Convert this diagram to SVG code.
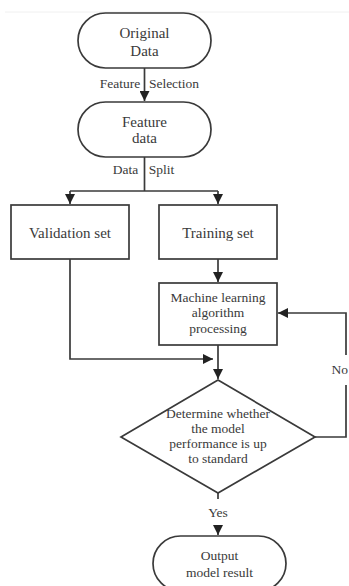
<svg xmlns="http://www.w3.org/2000/svg" width="349" height="586" viewBox="0 0 349 586">
<style>
.n{fill:#fff;stroke:#3a3a3a;stroke-width:1.7}
.t{font-family:"Liberation Serif","Times New Roman",serif;fill:#3a3a3a;text-anchor:middle}
.b{font-size:15px}
.s{font-size:13.5px}
.c{fill:none;stroke:#3a3a3a;stroke-width:1.7}
</style>
<defs>
<marker id="ah" viewBox="0 0 10 10" refX="10" refY="5" markerWidth="10" markerHeight="10" markerUnits="userSpaceOnUse" orient="auto">
<path d="M0,0 L10,5 L0,10 Z" fill="#222"/>
</marker>
</defs>
<rect width="349" height="586" fill="#fff"/>
<line x1="5" y1="12" x2="349" y2="12" stroke="#f0f0f0" stroke-width="1"/>
<g id="connectors">
<line class="c" x1="144.5" y1="68" x2="144.5" y2="101" marker-end="url(#ah)"/>
<polyline class="c" points="144.5,157 144.5,191"/>
<polyline class="c" points="70,191 218,191"/>
<line class="c" x1="70" y1="191" x2="70" y2="204" marker-end="url(#ah)"/>
<line class="c" x1="218" y1="191" x2="218" y2="204" marker-end="url(#ah)"/>
<line class="c" x1="218" y1="259" x2="218" y2="282" marker-end="url(#ah)"/>
<polyline class="c" points="70,259 70,359 213,359" marker-end="url(#ah)"/>
<line class="c" x1="218" y1="345" x2="218" y2="379" marker-end="url(#ah)"/>
<polyline class="c" points="315,437 346,437 346,385"/>
<polyline class="c" points="346,355 346,313 278,313" marker-end="url(#ah)"/>
<line class="c" x1="218" y1="493" x2="218" y2="499"/>
<line class="c" x1="218" y1="526" x2="218" y2="535" marker-end="url(#ah)"/>
<text class="t s" x="120" y="88">Feature</text>
<text class="t s" x="174" y="88">Selection</text>
<text class="t s" x="125.5" y="174">Data</text>
<text class="t s" x="161.5" y="174">Split</text>
<text class="t s" x="348" y="374" style="text-anchor:end">No</text>
<text class="t s" x="218" y="517">Yes</text>
</g>
<g id="original">
<rect class="n" x="78" y="13" width="133" height="55" rx="27.5"/>
<text class="t b" x="144.5" y="38">Original</text>
<text class="t b" x="144.5" y="56">Data</text>
</g>
<g id="feature">
<rect class="n" x="78" y="102" width="133" height="55" rx="27.5"/>
<text class="t b" x="144.5" y="127">Feature</text>
<text class="t b" x="144.5" y="143">data</text>
</g>
<g id="validation">
<rect class="n" x="11" y="205" width="118" height="54"/>
<text class="t b" x="70" y="238">Validation set</text>
</g>
<g id="training">
<rect class="n" x="159" y="205" width="118" height="54"/>
<text class="t b" x="218" y="238">Training set</text>
</g>
<g id="ml">
<rect class="n" x="159" y="283" width="118" height="62"/>
<text class="t s" x="218" y="302">Machine learning</text>
<text class="t s" x="218" y="317">algorithm</text>
<text class="t s" x="218" y="333">processing</text>
</g>
<g id="decision">
<polygon class="n" points="218,380 315,437 218,493 121,437"/>
<text class="t s" x="218" y="418">Determine whether</text>
<text class="t s" x="218" y="433">the model</text>
<text class="t s" x="218" y="448">performance is up</text>
<text class="t s" x="218" y="463">to standard</text>
</g>
<g id="output">
<rect class="n" x="153" y="536" width="133" height="55" rx="27.5"/>
<text class="t s" x="219.5" y="560">Output</text>
<text class="t s" x="219.5" y="577">model result</text>
</g>
</svg>
